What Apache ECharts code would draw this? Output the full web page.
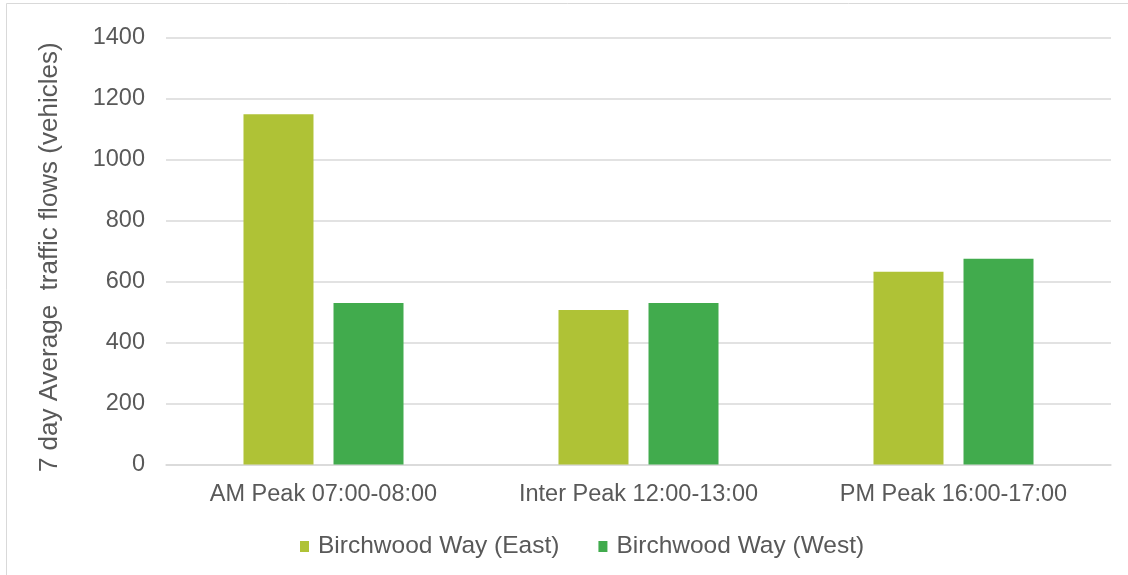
<!DOCTYPE html>
<html>
<head>
<meta charset="utf-8">
<script src="https://cdn.jsdelivr.net/npm/echarts@6/dist/echarts.min.js"></script>
<style>
  html, body { margin: 0; padding: 0; background: #fff; }
  #chart { width: 1128px; height: 575px; }
</style>
</head>
<body>
<div id="chart"></div>
<script>
// Peak-hour periods
const categories = ['AM Peak 07:00-08:00', 'Inter Peak 12:00-13:00', 'PM Peak 16:00-17:00'];
// Seven-day average flows per direction
const eastFlows = [1150, 507, 633];
const westFlows = [530, 530, 675];
const seriesNames = ['Birchwood Way (East)', 'Birchwood Way (West)'];
const yAxisTitle = '7 day Average  traffic flows (vehicles)';

const textColor = '#595959';
const gridColor = '#d9d9d9';
const fontFamily = '"Liberation Sans", Arial, sans-serif';

const chart = echarts.init(document.getElementById('chart'), null, { renderer: 'canvas' });

chart.setOption({
  animation: false,
  backgroundColor: '#fff',
  textStyle: { fontFamily: fontFamily, color: textColor },
  graphic: [{
    type: 'rect',
    shape: { x: 6.5, y: 3.5, width: 1300, height: 700 },
    style: { fill: 'none', stroke: gridColor, lineWidth: 1 },
    silent: true,
    z: -10
  }],
  grid: { left: 166, right: 17, top: 38, bottom: 110.5, containLabel: false },
  legend: {
    bottom: 11,
    left: 295,
    itemWidth: 9,
    itemHeight: 11,
    itemGap: 39,
    icon: 'rect',
    textStyle: { fontSize: 24.5, color: textColor, fontFamily: fontFamily, padding: [0, 0, 0, 4] },
    data: seriesNames
  },
  xAxis: {
    type: 'category',
    data: categories,
    axisLine: { show: true, lineStyle: { color: gridColor, width: 1.5 } },
    axisTick: { show: false },
    axisLabel: { fontSize: 23.5, color: textColor, margin: 18, fontFamily: fontFamily }
  },
  yAxis: {
    type: 'value',
    min: 0,
    max: 1400,
    interval: 200,
    name: yAxisTitle,
    nameLocation: 'middle',
    nameRotate: 90,
    nameGap: 103,
    nameTextStyle: { fontSize: 26, color: textColor, fontFamily: fontFamily, padding: [0, 12, 0, 0] },
    axisLine: { show: false },
    axisTick: { show: false },
    splitLine: { lineStyle: { color: gridColor, width: 1.5 } },
    axisLabel: {
      fontSize: 23.5, color: textColor, margin: 21, fontFamily: fontFamily,
      formatter: function (v) { return String(v); }
    }
  },
  series: [
    {
      name: seriesNames[0],
      type: 'bar',
      data: eastFlows,
      barWidth: 70,
      barGap: '28.6%',
      itemStyle: { color: '#afc236' }
    },
    {
      name: seriesNames[1],
      type: 'bar',
      data: westFlows,
      barWidth: 70,
      itemStyle: { color: '#41ab4d' }
    }
  ]
});
</script>
</body>
</html>
